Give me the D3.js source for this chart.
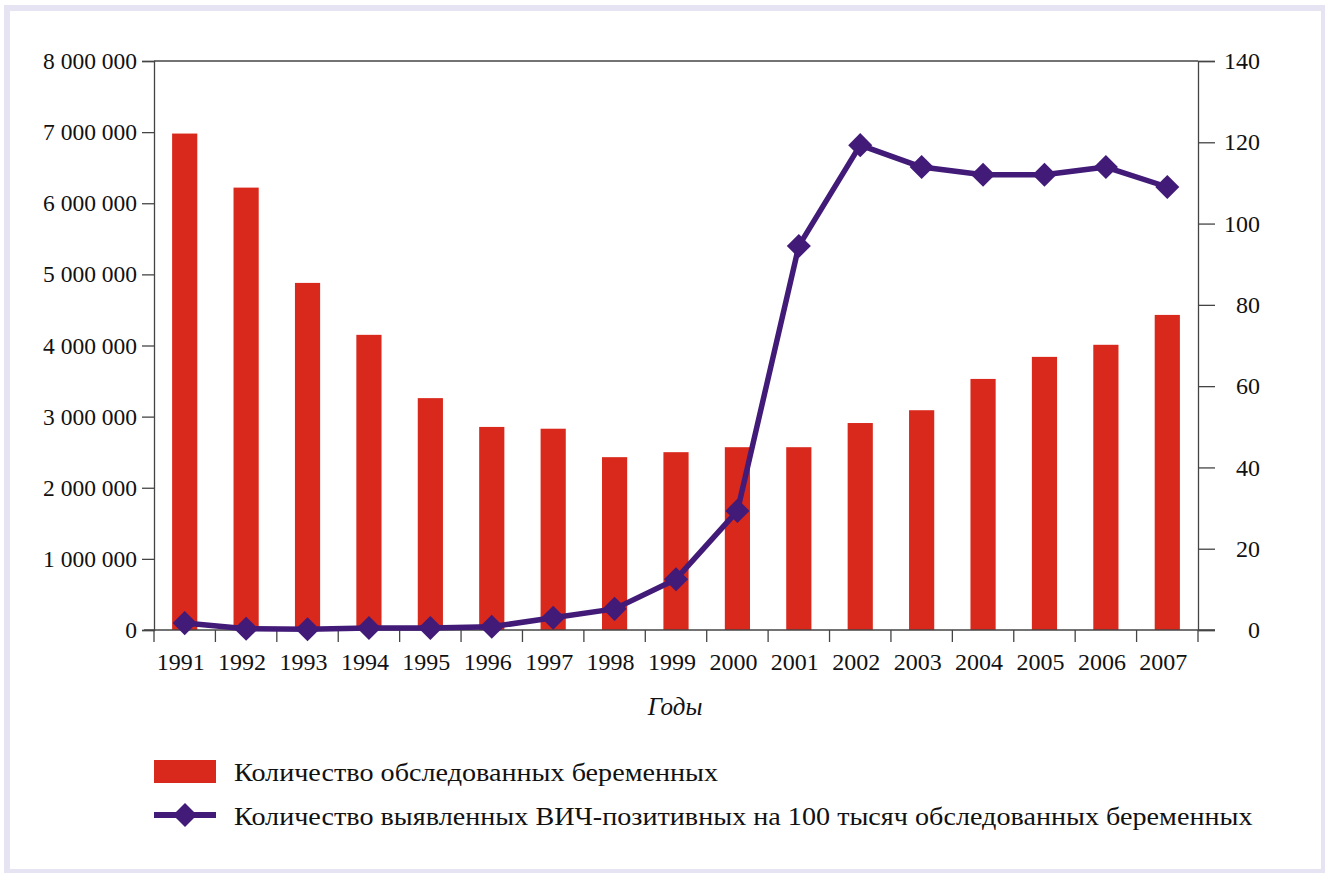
<!DOCTYPE html>
<html>
<head>
<meta charset="utf-8">
<script src="https://cdn.jsdelivr.net/npm/d3@7"></script>
<style>
  body { margin: 0; background: #fff; }
  svg text { font-family: "Liberation Serif", "DejaVu Serif", "Noto Serif", serif; }
</style>
</head>
<body>
<div id="chart"></div>
<script>
  const years = ["1991", "1992", "1993", "1994", "1995", "1996", "1997", "1998", "1999",
                 "2000", "2001", "2002", "2003", "2004", "2005", "2006", "2007"];
  const examined = [6980000, 6220000, 4880000, 4150000, 3260000, 2855000, 2830000, 2430000, 2500000,
                    2570000, 2570000, 2910000, 3090000, 3530000, 3840000, 4010000, 4430000];
  const hivPer100k = [1.7, 0.3, 0.2, 0.5, 0.5, 0.8, 3.0, 5.2, 12.5,
                      29.3, 94.5, 119.3, 113.9, 112.0, 112.0, 113.9, 109.0];
  const leftTicks = [0, 1000000, 2000000, 3000000, 4000000, 5000000, 6000000, 7000000, 8000000];
  const rightTicks = [0, 20, 40, 60, 80, 100, 120, 140];
  const legendLabels = [
    "Количество обследованных беременных",
    "Количество выявленных ВИЧ-позитивных на 100 тысяч обследованных беременных"
  ];

  const width = 1325, height = 873;
  const margin = { top: 61, right: 127, bottom: 243, left: 154 };
  const barColor = "#d9281c";
  const lineColor = "#421a78";
  const axisColor = "#444";
  const textColor = "#111";

  const svg = d3.select("#chart").append("svg")
    .attr("width", width)
    .attr("height", height);

  // frame
  svg.append("rect")
    .attr("x", 4).attr("y", 5)
    .attr("width", width - 4).attr("height", height - 5)
    .attr("fill", "#e6e3f2");
  svg.append("rect")
    .attr("x", 10).attr("y", 11)
    .attr("width", 1311).attr("height", 858)
    .attr("fill", "#fff");

  // legend text, stretched so the long line ends where the original one does
  const legend = svg.append("g").attr("transform", "translate(154,760)");
  const lbl = legend.selectAll("text.lbl")
    .data(legendLabels)
    .join("text")
    .attr("class", "lbl")
    .attr("x", 80)
    .attr("y", (d, i) => 21 + i * 44)
    .attr("font-size", 26)
    .attr("fill", textColor)
    .text(d => d);
  const natural = lbl.filter((d, i) => i === 1).node().getComputedTextLength();
  const sx = 1019 / natural;
  lbl.each(function() {
    const t = d3.select(this);
    const tx = +t.attr("x"), ty = +t.attr("y");
    t.attr("x", 0).attr("y", 0)
      .attr("transform", `translate(${tx},${ty}) scale(${sx},1)`);
  });

  legend.append("rect")
    .attr("width", 62).attr("height", 23)
    .attr("fill", barColor);
  legend.append("line")
    .attr("x1", 0).attr("x2", 62)
    .attr("y1", 55).attr("y2", 55)
    .attr("stroke", lineColor).attr("stroke-width", 6);

  const x = d3.scaleBand()
    .domain(years)
    .range([margin.left, width - margin.right])
    .paddingInner(0.59)
    .paddingOuter(0.295);

  const xTicks = d3.scaleBand().domain(years).range([margin.left, width - margin.right]);

  const yLeft = d3.scaleLinear().domain([0, 8000000]).range([height - margin.bottom, margin.top]);
  const yRight = d3.scaleLinear().domain([0, 140]).range([height - margin.bottom, margin.top]);

  const fmt = v => d3.format(",")(v).replace(/,/g, " ");

  // top border line of plot
  svg.append("line")
    .attr("x1", margin.left).attr("x2", width - margin.right)
    .attr("y1", margin.top).attr("y2", margin.top)
    .attr("stroke", axisColor).attr("stroke-width", 1.3);

  // bars
  svg.append("g").selectAll("rect")
    .data(years)
    .join("rect")
    .attr("x", d => x(d))
    .attr("width", x.bandwidth())
    .attr("y", (d, i) => yLeft(examined[i]))
    .attr("height", (d, i) => yLeft(0) - yLeft(examined[i]))
    .attr("fill", barColor);

  // left axis
  const gLeft = svg.append("g")
    .attr("transform", `translate(${margin.left},0)`)
    .call(d3.axisLeft(yLeft).tickValues(leftTicks).tickFormat(fmt).tickSize(12).tickPadding(5));
  gLeft.attr("font-family", null).attr("font-size", null);
  gLeft.selectAll("text").attr("font-size", 23.5).attr("fill", textColor);

  // right axis
  const gRight = svg.append("g")
    .attr("transform", `translate(${width - margin.right},0)`)
    .call(d3.axisRight(yRight).tickValues(rightTicks).tickSize(17));
  gRight.attr("font-family", null).attr("font-size", null);
  gRight.selectAll("text").attr("font-size", 24).attr("fill", textColor)
    .attr("text-anchor", "end")
    .attr("x", 62);

  // bottom axis: boundary ticks between categories
  const gBottom = svg.append("g")
    .attr("transform", `translate(0,${height - margin.bottom})`);
  gBottom.append("line")
    .attr("x1", margin.left - 10).attr("x2", width - margin.right + 17)
    .attr("stroke", axisColor).attr("stroke-width", 1.3);
  gBottom.selectAll("line.tick")
    .data(years)
    .join("line")
    .attr("class", "tick")
    .attr("x1", d => xTicks(d) + xTicks.bandwidth())
    .attr("x2", d => xTicks(d) + xTicks.bandwidth())
    .attr("y1", 0).attr("y2", 12)
    .attr("stroke", axisColor).attr("stroke-width", 1.3);
  gBottom.append("line")
    .attr("x1", margin.left).attr("x2", margin.left)
    .attr("y1", 0).attr("y2", 12)
    .attr("stroke", axisColor).attr("stroke-width", 1.3);
  gBottom.selectAll("text")
    .data(years)
    .join("text")
    .attr("x", d => xTicks(d) + xTicks.bandwidth() / 2 - 4)
    .attr("y", 40)
    .attr("text-anchor", "middle")
    .attr("font-size", 24)
    .attr("fill", textColor)
    .text(d => d);

  [gLeft, gRight].forEach(g => {
    g.select(".domain").attr("stroke", axisColor).attr("stroke-width", 1.3);
    g.selectAll(".tick line").attr("stroke", axisColor).attr("stroke-width", 1.3);
  });

  // line series
  const cx = d => x(d) + x.bandwidth() / 2;
  const line = d3.line()
    .x(d => cx(d))
    .y((d, i) => yRight(hivPer100k[i]));

  svg.append("path")
    .datum(years)
    .attr("d", line)
    .attr("fill", "none")
    .attr("stroke", lineColor)
    .attr("stroke-width", 5.5)
    .attr("stroke-linejoin", "round");

  const diamond = d3.symbol().type(d3.symbolSquare).size(290);
  svg.append("g").selectAll("path")
    .data(years)
    .join("path")
    .attr("d", diamond)
    .attr("transform", (d, i) => `translate(${cx(d)},${yRight(hivPer100k[i])}) rotate(45)`)
    .attr("fill", lineColor);

  legend.append("path")
    .attr("d", diamond)
    .attr("transform", "translate(31,55) rotate(45)")
    .attr("fill", lineColor);

  // x axis title
  svg.append("text")
    .attr("x", 675)
    .attr("y", 715)
    .attr("text-anchor", "middle")
    .attr("font-size", 25)
    .attr("font-style", "italic")
    .attr("fill", textColor)
    .text("Годы");
</script>
</body>
</html>
